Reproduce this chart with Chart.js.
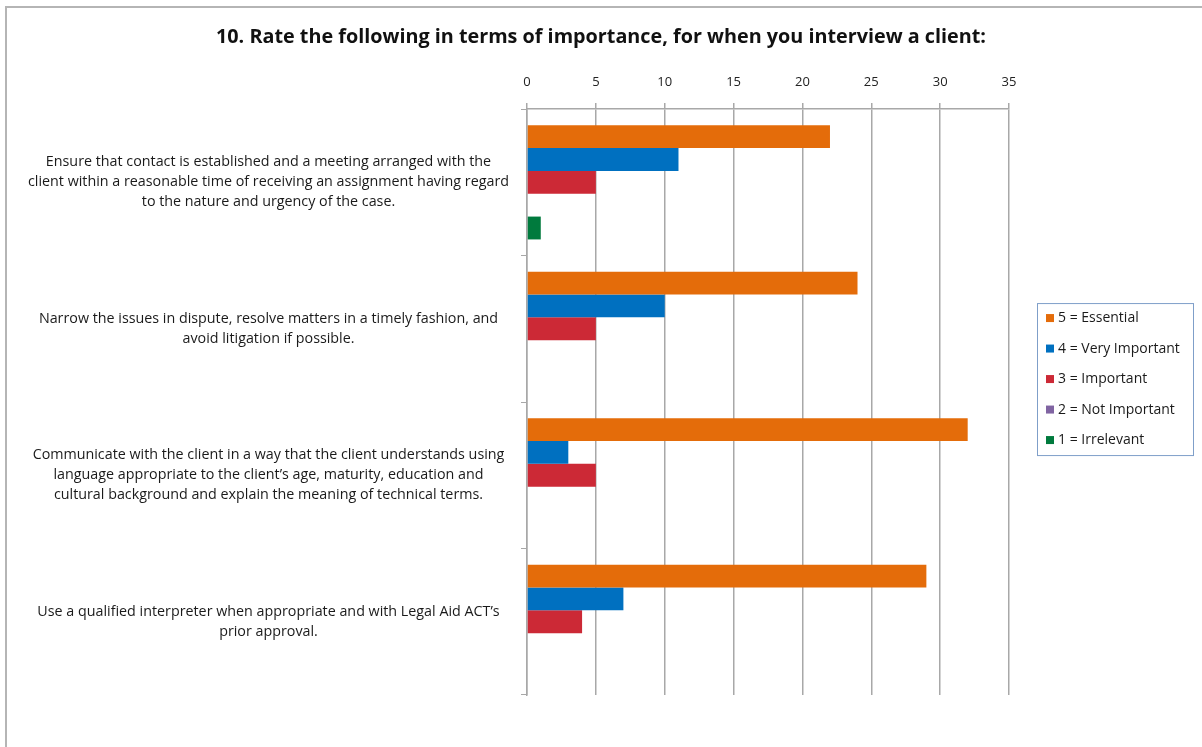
<!DOCTYPE html>
<html>
<head>
<meta charset="utf-8">
<script src="https://cdn.jsdelivr.net/npm/chart.js@4"></script>
<style>
  html, body { margin: 0; padding: 0; background: #fff; }
  #wrap { position: relative; width: 1202px; height: 747px; }
  #frame { position: absolute; left: 5px; top: 6px; right: -10px; bottom: -10px; border-left: 2px solid #b5b5b5; border-top: 2px solid #b5b5b5; pointer-events: none; }
</style>
</head>
<body>
<div id="wrap">
  <canvas id="c" width="1202" height="747"></canvas>
  <div id="frame"></div>
</div>
<script>
const titleText = "10. Rate the following in terms of importance, for when you interview a client:";
const categories = [
  ["Ensure that contact is established and a meeting arranged with the",
   "client within a reasonable time of receiving an assignment having regard",
   "to the nature and urgency of the case."],
  ["Narrow the issues in dispute, resolve matters in a timely fashion, and",
   "avoid litigation if possible."],
  ["Communicate with the client in a way that the client understands using",
   "language appropriate to the client\u2019s age, maturity, education and",
   "cultural background and explain the meaning of technical terms."],
  ["Use a qualified interpreter when appropriate and with Legal Aid ACT\u2019s",
   "prior approval."]
];
const seriesNames = ["5 = Essential", "4 = Very Important", "3 = Important", "2 = Not Important", "1 = Irrelevant"];
const essential     = [22, 24, 32, 29];
const veryImportant = [11, 10, 3, 7];
const important     = [5, 5, 5, 4];
const notImportant  = [0, 0, 0, 0];
const irrelevant    = [1, 0, 0, 0];
const xTicks = [0, 5, 10, 15, 20, 25, 30, 35];

const colors = ["#E46C0A", "#0070C0", "#CC2936", "#8064A2", "#007A3D"];
const seriesData = [essential, veryImportant, important, notImportant, irrelevant];

const FONT = "'Open Sans', 'Noto Sans', sans-serif";

const legendPlugin = {
  id: 'boxLegend',
  afterDraw(chart) {
    const ctx = chart.ctx;
    const ca = chart.chartArea;
    const x0 = ca.right + 28, y0 = ca.top + 194, w = 156, h = 152;
    ctx.save();
    ctx.fillStyle = '#fff';
    ctx.fillRect(x0, y0, w, h);
    ctx.strokeStyle = '#7f9fc9';
    ctx.lineWidth = 1;
    ctx.strokeRect(x0 + 0.5, y0 + 0.5, w, h);
    ctx.font = "14px " + FONT;
    ctx.textBaseline = 'middle';
    chart.data.datasets.forEach((ds, i) => {
      const cy = y0 + 15 + i * 30.5;
      ctx.fillStyle = ds.backgroundColor;
      ctx.fillRect(x0 + 9, cy - 4, 8, 8);
      ctx.fillStyle = '#1a1a1a';
      ctx.fillText(ds.label, x0 + 21, cy);
    });
    ctx.restore();
  }
};

new Chart(document.getElementById('c'), {
  type: 'bar',
  data: {
    labels: categories,
    datasets: seriesNames.map((n, i) => ({
      label: n,
      data: seriesData[i],
      backgroundColor: colors[i],
      borderWidth: 0,
      categoryPercentage: 0.78,
      barPercentage: 1.0
    }))
  },
  options: {
    indexAxis: 'y',
    responsive: false,
    animation: false,
    devicePixelRatio: 1,
    layout: { padding: { left: 0, right: 0, top: 0, bottom: 52 } },
    plugins: {
      legend: { display: false },
      tooltip: { enabled: false },
      title: {
        display: true,
        text: titleText,
        color: '#111',
        font: { family: FONT, size: 19.8, weight: 'bold' },
        padding: { top: 25, bottom: 10 }
      }
    },
    scales: {
      x: {
        position: 'top',
        min: 0,
        max: 35,
        afterBuildTicks(scale) { scale.ticks = xTicks.map(v => ({ value: v })); },
        afterFit(scale) { scale.height = 50.3; },
        ticks: { color: '#222', font: { family: FONT, size: 13 }, padding: 13 },
        grid: { color: '#a8a8a8', lineWidth: 1.5, tickLength: 6, drawTicks: true },
        border: { color: '#a8a8a8', width: 1.5 }
      },
      y: {
        afterFit(scale) { scale.width = 527; },
        ticks: {
          color: '#1a1a1a',
          font: { family: FONT, size: 14.3, lineHeight: 1.4 },
          crossAlign: 'center',
          padding: 12
        },
        grid: { offset: true, drawOnChartArea: false, color: '#a8a8a8', tickLength: 6 },
        border: { color: '#a8a8a8', width: 1.5 }
      },
      yRight: {
        type: 'category',
        axis: 'y',
        position: 'right',
        afterFit(scale) { scale.width = 193; },
        ticks: { display: false },
        grid: { display: false },
        border: { display: false }
      }
    }
  },
  plugins: [legendPlugin]
});
</script>
</body>
</html>
